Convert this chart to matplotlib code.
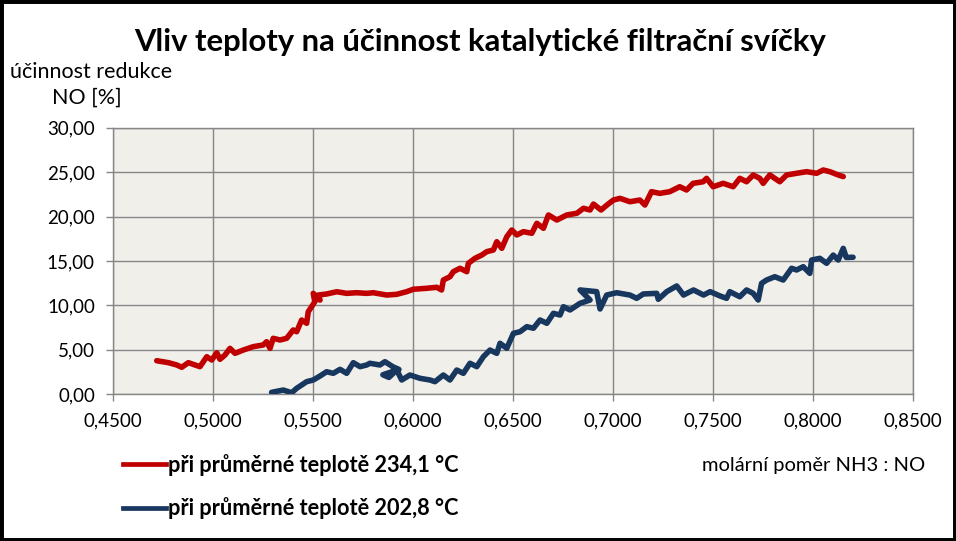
import matplotlib
matplotlib.use("Agg")
import matplotlib.pyplot as plt
from matplotlib.ticker import FuncFormatter, MultipleLocator
from matplotlib.lines import Line2D
from matplotlib.patches import Rectangle

FONT = ['Lato', 'DejaVu Sans']
plt.rcParams['font.family'] = FONT

title = "Vliv teploty na účinnost katalytické filtrační svíčky"
ylabel_1 = "účinnost redukce"
ylabel_2 = "NO [%]"
xlabel = "molární poměr NH3 : NO"
label_red = "při průměrné teplotě 234,1 °C"
label_blue = "při průměrné teplotě 202,8 °C"

red_x = [0.4720, 0.4778, 0.4820, 0.4845, 0.4878, 0.4911, 0.4936, 0.4970, 0.4995, 0.5020,
         0.5036, 0.5061, 0.5086, 0.5111, 0.5152, 0.5202, 0.5252, 0.5269, 0.5286, 0.5302,
         0.5336, 0.5369, 0.5402, 0.5419, 0.5444, 0.5469, 0.5477, 0.5494, 0.5510, 0.5502,
         0.5536, 0.5527, 0.5569, 0.5619, 0.5669, 0.5719, 0.5769, 0.5802, 0.5869, 0.5919,
         0.5969, 0.6002, 0.6069, 0.6119, 0.6143, 0.6152, 0.6185, 0.6202, 0.6235, 0.6269,
         0.6277, 0.6310, 0.6344, 0.6369, 0.6402, 0.6419, 0.6444, 0.6469, 0.6494, 0.6519,
         0.6552, 0.6594, 0.6619, 0.6652, 0.6677, 0.6719, 0.6769, 0.6819, 0.6852, 0.6885,
         0.6902, 0.6940, 0.6975, 0.7002, 0.7035, 0.7084, 0.7134, 0.7159, 0.7192, 0.7233,
         0.7283, 0.7333, 0.7367, 0.7400, 0.7450, 0.7467, 0.7500, 0.7550, 0.7600, 0.7633,
         0.7667, 0.7700, 0.7733, 0.7750, 0.7783, 0.7833, 0.7867, 0.7917, 0.7967, 0.8017,
         0.8050, 0.8083, 0.8125, 0.8150]
red_y = [3.78, 3.56, 3.30, 3.04, 3.56, 3.30, 3.11, 4.23, 3.86, 4.68,
         3.94, 4.42, 5.17, 4.61, 4.98, 5.36, 5.55, 5.92, 5.17, 6.30,
         6.11, 6.30, 7.24, 7.04, 8.36, 7.99, 9.29, 9.86, 10.42, 11.36,
         10.60, 11.17, 11.29, 11.54, 11.36, 11.43, 11.36, 11.43, 11.17, 11.25,
         11.55, 11.82, 11.93, 12.04, 11.74, 12.86, 13.23, 13.80, 14.18, 13.80,
         14.74, 15.30, 15.67, 16.05, 16.24, 17.17, 16.43, 17.73, 18.49, 17.93,
         18.30, 18.12, 19.24, 18.68, 20.18, 19.61, 20.18, 20.37, 20.93, 20.74,
         21.41, 20.74, 21.40, 21.86, 22.05, 21.67, 21.86, 21.30, 22.80, 22.61,
         22.80, 23.36, 22.99, 23.74, 23.92, 24.30, 23.36, 23.74, 23.36, 24.30,
         23.92, 24.68, 24.30, 23.74, 24.68, 23.92, 24.68, 24.87, 25.05, 24.87,
         25.24, 25.05, 24.68, 24.50]

blue_x = [0.5294, 0.5352, 0.5394, 0.5419, 0.5469, 0.5502, 0.5536, 0.5569, 0.5602, 0.5636,
          0.5669, 0.5702, 0.5736, 0.5769, 0.5785, 0.5835, 0.5860, 0.5900, 0.5930, 0.5850,
          0.5880, 0.5919, 0.5944, 0.5985, 0.6035, 0.6085, 0.6110, 0.6152, 0.6185, 0.6219,
          0.6252, 0.6285, 0.6319, 0.6352, 0.6385, 0.6419, 0.6435, 0.6469, 0.6502, 0.6535,
          0.6569, 0.6602, 0.6635, 0.6669, 0.6702, 0.6735, 0.6752, 0.6785, 0.6835, 0.6885,
          0.6835, 0.6918, 0.6935, 0.6968, 0.7018, 0.7084, 0.7118, 0.7151, 0.7218, 0.7226,
          0.7268, 0.7318, 0.7352, 0.7402, 0.7452, 0.7485, 0.7535, 0.7567, 0.7583, 0.7633,
          0.7667, 0.7700, 0.7725, 0.7742, 0.7767, 0.7808, 0.7850, 0.7892, 0.7917, 0.7950,
          0.7983, 0.7992, 0.8033, 0.8067, 0.8100, 0.8125, 0.8150, 0.8165, 0.8199]
blue_y = [0.22, 0.48, 0.18, 0.67, 1.42, 1.61, 2.06, 2.54, 2.36, 2.81,
          2.36, 3.56, 3.11, 3.30, 3.49, 3.30, 3.67, 3.10, 2.80, 2.20,
          1.90, 2.73, 1.61, 2.17, 1.80, 1.61, 1.42, 2.17, 1.61, 2.73,
          2.36, 3.49, 3.11, 4.23, 4.98, 4.61, 5.74, 5.18, 6.86, 7.04,
          7.61, 7.43, 8.36, 7.99, 9.11, 8.92, 9.86, 9.49, 10.24, 10.61,
          11.74, 11.55, 9.60, 11.17, 11.43, 11.17, 10.80, 11.29, 11.36, 10.69,
          11.55, 12.19, 11.17, 11.74, 11.17, 11.55, 11.06, 10.80, 11.55, 10.98,
          11.74, 11.36, 10.61, 12.49, 12.86, 13.23, 12.86, 14.18, 13.99, 14.36,
          13.61, 15.11, 15.30, 14.74, 15.67, 15.11, 16.42, 15.40, 15.42]

RED = '#C00000'
BLUE = '#17375E'
GRID = '#868686'

W, H = 956, 541
fig = plt.figure(figsize=(W / 100, H / 100), dpi=100, facecolor='white')
ax = fig.add_axes([112.7 / W, 1 - 394.3 / H, (913.3 - 112.7) / W, (394.3 - 127.7) / H])
ax.set_facecolor('#F0EFEA')

ax.plot(red_x, red_y, color=RED, lw=4.0, solid_joinstyle='round', solid_capstyle='round', zorder=3)
ax.plot(blue_x, blue_y, color=BLUE, lw=4.0, solid_joinstyle='round', solid_capstyle='round', zorder=3)

ax.set_xlim(0.45, 0.85)
ax.set_ylim(0, 30)
ax.xaxis.set_major_locator(MultipleLocator(0.05))
ax.yaxis.set_major_locator(MultipleLocator(5))
ax.xaxis.set_major_formatter(FuncFormatter(lambda v, p: f"{v:.4f}".replace('.', ',')))
ax.yaxis.set_major_formatter(FuncFormatter(lambda v, p: f"{v:.2f}".replace('.', ',')))
ax.grid(True, color=GRID, lw=1.0, zorder=1)
ax.set_axisbelow(True)
for s in ax.spines.values():
    s.set_color(GRID)
    s.set_linewidth(1.0)
ax.tick_params(axis='both', direction='out', length=4.8, width=1.0, color=GRID,
               labelsize=13.5, pad=8, labelcolor='black')

fig.text(480 / W, 1 - 42 / H, title, ha='center', va='center', fontsize=22.3,
         fontweight='bold', family=FONT)
fig.text(10 / W, 1 - 72 / H, ylabel_1, ha='left', va='center', fontsize=15.5, family=FONT)
fig.text(86.5 / W, 1 - 98 / H, ylabel_2, ha='center', va='center', fontsize=15.5, family=FONT)
fig.text(925 / W, 1 - 465 / H, xlabel, ha='right', va='center', fontsize=14.5, family=FONT)

handles = [Line2D([], [], color=RED, lw=3.4), Line2D([], [], color=BLUE, lw=3.4)]
fig.legend(handles, [label_red, label_blue], loc='center left',
           bbox_to_anchor=(123 / W, 1 - 486.5 / H), frameon=False,
           borderpad=0, borderaxespad=0, handlelength=1.95, handletextpad=0.12,
           labelspacing=1.0, prop={'family': FONT, 'weight': 'bold', 'size': 15.7})

fig.patches.append(Rectangle((0, 0), 1, 1, transform=fig.transFigure, fill=False,
                             ec='black', lw=5, zorder=10))

fig.savefig('out.png', dpi=100, facecolor='white')
